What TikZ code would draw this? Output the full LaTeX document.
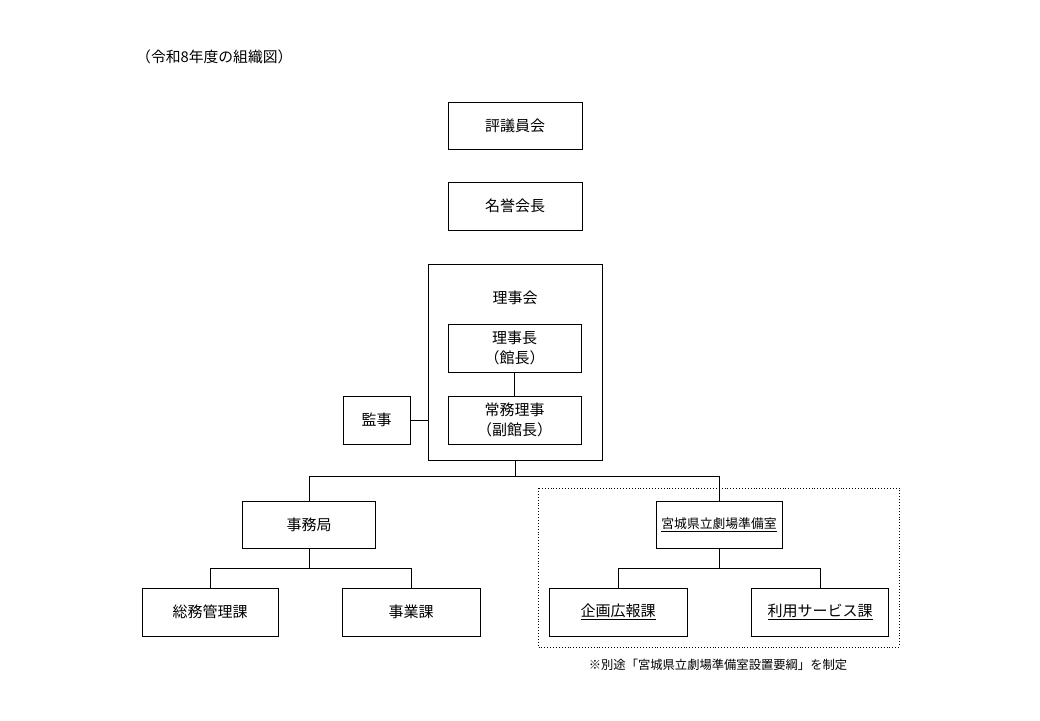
\documentclass[tikz,border=0pt]{standalone}
\usepackage{fontspec}
\newfontfamily\jp{Noto Sans CJK JP}
\begin{document}
\begin{tikzpicture}[x=1pt,y=-1pt,
  box/.style={draw, line width=0.9pt, inner sep=0pt, align=center,
    font=\jp\fontsize{15}{19.5}\selectfont},
  conn/.style={line width=0.9pt},
  note/.style={inner sep=0pt, font=\jp\fontsize{12.3}{14}\selectfont}]
\useasboundingbox (0,0) rectangle (1040,720);
\node[note, anchor=west, font=\jp\fontsize{14.8}{16}\selectfont] (title) at (136,57) {（令和8年度の組織図）};
\node[box, minimum width=134pt, minimum height=47pt] (hyogi) at (515,125.5) {評議員会};
\node[box, minimum width=134pt, minimum height=48pt] (meiyo) at (515,206) {名誉会長};
\node[box, minimum width=174pt, minimum height=196pt] (rijikai) at (515,362) {};
\node[inner sep=0pt, font=\jp\fontsize{15}{19.5}\selectfont] (rijikaitxt) at (515,298) {理事会};
\node[box, minimum width=133pt, minimum height=48pt] (rijicho) at (514.5,348) {理事長\\（館長）};
\node[box, minimum width=133pt, minimum height=48pt] (jomu) at (514.5,420) {常務理事\\（副館長）};
\node[box, minimum width=67pt, minimum height=48pt] (kanji) at (376.5,420) {監事};
\node[box, minimum width=133pt, minimum height=47pt] (jimu) at (309,524.5) {事務局};
\node[box, minimum width=136pt, minimum height=48pt] (somu) at (210,612) {総務管理課};
\node[box, minimum width=138pt, minimum height=48pt] (jigyo) at (411,612) {事業課};
\draw[line width=0.9pt, dotted] (538,488) rectangle (899,647);
\node[box, minimum width=126pt, minimum height=47pt, font=\jp\fontsize{12.8}{15}\selectfont] (junbi) at (719,524.5) {\underline{宮城県立劇場準備室}};
\node[box, minimum width=138pt, minimum height=48pt] (kikaku) at (618,612) {\underline{企画広報課}};
\node[box, minimum width=137pt, minimum height=48pt] (riyo) at (820,612) {\underline{利用サービス課}};
\node[note] (footnote) at (718,665) {※別途「宮城県立劇場準備室設置要綱」を制定};
\draw[conn] (rijicho) -- (jomu);
\draw[conn] (kanji.east) -- (kanji.east -| rijikai.west);
\draw[conn] (rijikai.south) -- ++(0,16) coordinate (split) -| (jimu.north);
\draw[conn] (split) -| (junbi.north);
\draw[conn] (jimu.south) -- ++(0,20) coordinate (split2) -| (somu.north);
\draw[conn] (split2) -| (jigyo.north);
\draw[conn] (junbi.south) -- ++(0,20) coordinate (split3) -| (kikaku.north);
\draw[conn] (split3) -| (riyo.north);
\end{tikzpicture}
\end{document}
